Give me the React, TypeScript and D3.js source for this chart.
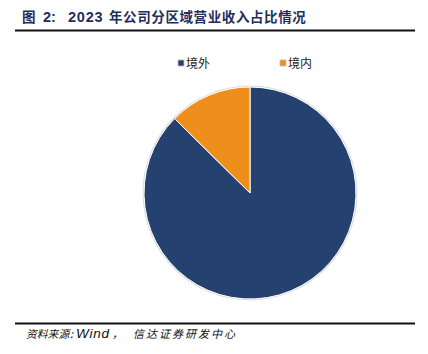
import React from "react";
import * as d3 from "d3";

const categories = ["境外", "境内"];
const values = [87.4, 12.6];
const colors = ["#24416F", "#EE8F1C"];
const titleParts = ["图", "2:", "2023", "年公司分区域营业收入占比情况"];
const sourceParts = ["资料来源", ":", "Wind", "，", "信达证券研发中心"];

export default function App() {
  const W = 428, H = 354;
  const cx = 250, cy = 193, r = 106;
  const pie = d3.pie<number>().sort(null).value((d) => d);
  const arcs = pie(values);
  const arc = d3.arc<d3.PieArcDatum<number>>().innerRadius(0).outerRadius(r);
  const legendX = [178, 280];
  const cjk = "'Noto Sans CJK SC', sans-serif";
  const lat = "'Liberation Sans', Arial, sans-serif";
  return (
    <svg width={W} height={H} style={{ position: "absolute", left: 0, top: 0, background: "#fff" }}>
      <text y={22} fontSize={13.5} fontWeight="bold" fill="#1F2F5A">
        <tspan x={22} fontFamily={cjk}>{titleParts[0]}</tspan>
        <tspan x={43} fontFamily={lat} fontSize={14.5}>{titleParts[1]}</tspan>
        <tspan x={68} fontFamily={lat} fontSize={14.5} letterSpacing={0.8}>{titleParts[2]}</tspan>
        <tspan x={109} fontFamily={cjk} letterSpacing={0.6}>{titleParts[3]}</tspan>
      </text>
      <line x1={15} x2={415} y1={30.5} y2={30.5} stroke="#111" strokeWidth={2} />
      <circle cx={cx} cy={cy} r={r + 0.8} fill="none" stroke="#d9d9d9" strokeWidth={1.2} />
      <g transform={`translate(${cx},${cy})`}>
        {arcs.map((a, i) => (
          <path key={i} d={arc(a) || ""} fill={colors[i]} stroke="#fff" strokeWidth={1} />
        ))}
      </g>
      {categories.map((c, i) => (
        <g key={c}>
          <rect x={legendX[i]} y={60} width={6} height={6} fill={colors[i]} stroke="#bbb" strokeWidth={0.8} />
          <text x={legendX[i] + 8} y={67.5} fontSize={12} fill="#222" fontFamily={cjk}>{c}</text>
        </g>
      ))}
      <line x1={15} x2={415} y1={323.5} y2={323.5} stroke="#111" strokeWidth={2} />
      <text y={337.5} fontSize={11} fontStyle="italic" fill="#111">
        <tspan x={26} fontFamily={cjk} fontSize={10.8}>{sourceParts[0]}</tspan>
        <tspan x={70} fontFamily={cjk}>{sourceParts[1]}</tspan>
        <tspan x={76} fontFamily={lat} fontSize={13.5} letterSpacing={0.8}>{sourceParts[2]}</tspan>
        <tspan x={112} fontFamily={cjk}>{sourceParts[3]}</tspan>
        <tspan x={133} fontFamily={cjk} letterSpacing={2}>{sourceParts[4]}</tspan>
      </text>
    </svg>
  );
}
